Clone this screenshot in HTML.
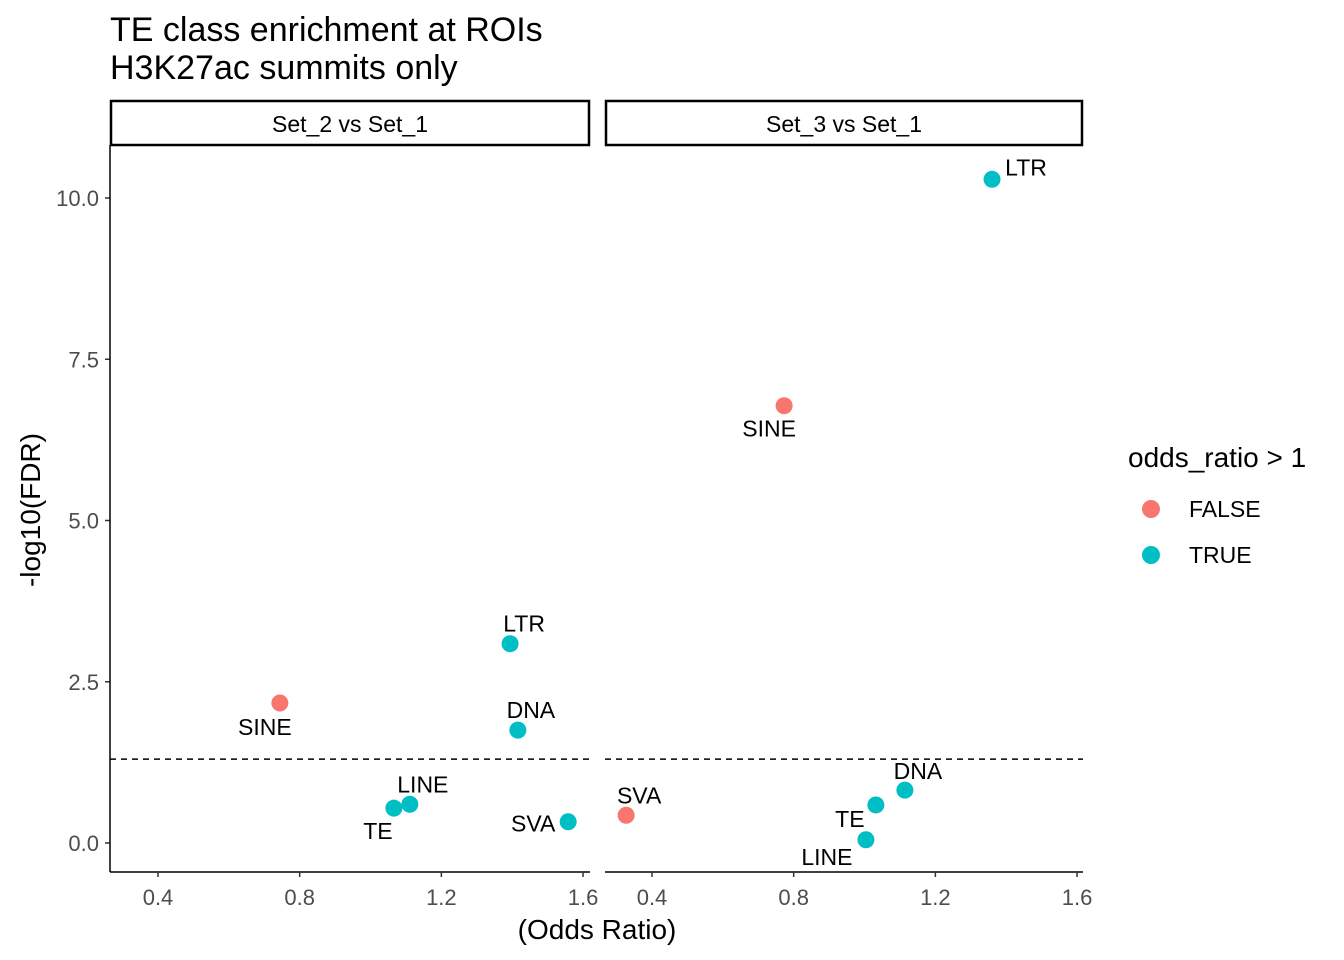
<!DOCTYPE html>
<html><head><meta charset="utf-8"><style>body{margin:0;background:#fff}svg{display:block;font-family:"Liberation Sans",Arial,sans-serif}</style></head>
<body>
<svg id="c" width="1344" height="960" viewBox="0 0 1344 960">
<text x="110" y="41" font-size="34" fill="#000">TE class enrichment at ROIs</text>
<text x="110" y="79" font-size="34" fill="#000">H3K27ac summits only</text>
<text transform="translate(40,510) rotate(-90)" text-anchor="middle" font-size="28">-log10(FDR)</text>
<text x="597" y="939" text-anchor="middle" font-size="28">(Odds Ratio)</text>
<g>
<text x="1128" y="467" font-size="28">odds_ratio &gt; 1</text>
<circle cx="1151" cy="509" r="9" fill="#F8766D"/>
<text x="1189" y="517" font-size="23">FALSE</text>
<circle cx="1151" cy="555" r="9" fill="#00BFC4"/>
<text x="1189" y="563" font-size="23">TRUE</text>
</g>
<g id="plot"></g>
</svg>
<script>
const panels = ["Set_2 vs Set_1", "Set_3 vs Set_1"];
const labels1 = ["SINE","LTR","DNA","LINE","TE","SVA"];
const odds1 = [0.744,1.394,1.416,1.111,1.066,1.558];
const fdr1 = [2.17,3.09,1.75,0.60,0.54,0.33];
const labels2 = ["LTR","SINE","SVA","DNA","TE","LINE"];
const odds2 = [1.36,0.773,0.327,1.114,1.032,1.004];
const fdr2 = [10.29,6.78,0.43,0.82,0.59,0.05];
const xTicks = [0.4,0.8,1.2,1.6];
const yTicks = [0,2.5,5,7.5,10];
const yTickLabels = ["0.0","2.5","5.0","7.5","10.0"];
const threshold = 1.30103;
const offs1 = [[-15,24],[14,-20],[13,-20],[13,-20],[-16,23],[-35,2]];
const offs2 = [[34,-12],[-15,23],[13,-20],[13,-19],[-26,14],[-39,17]];
const NS="http://www.w3.org/2000/svg";
const g=document.getElementById('plot');
function mk(t,a,txt){const e=document.createElementNS(NS,t);for(const k in a)e.setAttribute(k,a[k]);if(txt!==undefined)e.textContent=txt;g.appendChild(e);return e;}
const top_=145,bot=872;
const yS=v=>843-v*64.5;
const pLeft=[110,605],pRight=[590,1083],x04=[158,652];
const xS=(p,v)=>x04[p]+(v-0.4)*354.2;
yTicks.forEach((t,i)=>{
 const l=mk('line',{x1:105,x2:110,y1:yS(t),y2:yS(t),stroke:'#333','stroke-width':1.5});
 
 
 const tx=mk('text',{x:99,y:yS(t)+8,'text-anchor':'end','font-size':22,fill:'#4d4d4d'},yTickLabels[i]);
 
 
});
const ya=mk('line',{x1:110,x2:110,y1:top_,y2:bot,stroke:'#000','stroke-width':1.5});


const data=[[labels1,odds1,fdr1,offs1],[labels2,odds2,fdr2,offs2]];
for(let p=0;p<2;p++){
 const s=mk('rect',{x:pLeft[p]+1,y:101,width:pRight[p]-pLeft[p]-2,height:44,fill:'#fff',stroke:'#000','stroke-width':2.5});
 
 
 const st=mk('text',{x:(pLeft[p]+pRight[p])/2,y:132,'text-anchor':'middle','font-size':23},panels[p]);
 
 
 const xa=mk('line',{x1:pLeft[p],x2:pRight[p],y1:bot,y2:bot,stroke:'#000','stroke-width':1.5});
 
 
 xTicks.forEach(t=>{
  const l=mk('line',{x1:xS(p,t),x2:xS(p,t),y1:bot,y2:bot+5,stroke:'#333','stroke-width':1.5});
  
  
  const tx=mk('text',{x:xS(p,t),y:905,'text-anchor':'middle','font-size':22,fill:'#4d4d4d'},t.toFixed(1));
  
  
 });
 const th=mk('line',{x1:pLeft[p],x2:pRight[p],y1:yS(threshold),y2:yS(threshold),stroke:'#000','stroke-width':1.5,'stroke-dasharray':'6,5'});
 
 
 const [lb,ox,fy,of]=data[p];
 lb.forEach((name,i)=>{
  const cx=xS(p,ox[i]),cy=yS(fy[i]);
  const c=mk('circle',{cx:cx,cy:cy,r:8.5,fill:ox[i]>1?'#00BFC4':'#F8766D'});
  
  
  const t=mk('text',{x:cx+of[i][0],y:cy+of[i][1]+8,'text-anchor':'middle','font-size':23},name);
  
  
 });
}
</script>
</body></html>
